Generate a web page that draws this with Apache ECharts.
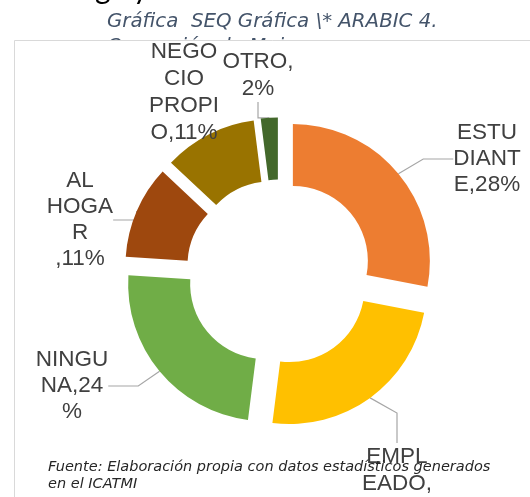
<!DOCTYPE html>
<html>
<head>
<meta charset="utf-8">
<script src="https://cdn.jsdelivr.net/npm/echarts@6/dist/echarts.min.js"></script>
<style>
html,body{margin:0;padding:0;background:#fff;}
#chart{width:530px;height:497px;}
</style>
</head>
<body>
<div id="chart"></div>
<script>
// Data
const categories = ['ESTUDIANTE', 'EMPLEADO', 'NINGUNA', 'AL HOGAR', 'NEGOCIO PROPIO', 'OTRO'];
const values = [28, 24, 24, 11, 11, 2];
// Label texts as wrapped in the original (narrow label boxes)
const labelTexts = ['ESTU\nDIANT\nE,28%', 'EMPL\nEADO,\n24%', 'NINGU\nNA,24\n%', 'AL\nHOGA\nR\n,11%', 'NEGO\nCIO\nPROPI\nO,11%', 'OTRO,\n2%'];
const colors = ['#ED7D31', '#FFC000', '#70AD47', '#9E480E', '#997300', '#43682B'];
// Label layout (center x, top y of each label box) and line heights
const labelPos = [[487, 120], [397, 443], [72, 347], [80, 168], [184, 38], [258, 48]];
const labelLH = [26, 27, 26, 26, 27, 27];

const CX = 279, CY = 272.5, EXPLODE = 18;
const total = values.reduce((a, b) => a + b, 0);

// Each slice is its own series (same data) so it can be exploded along its bisector.
const series = [];
let cum = 0;
values.forEach((v, i) => {
  const mid = (cum + v / 2) / total * 2 * Math.PI; // clockwise from 12 o'clock
  cum += v;
  series.push({
    type: 'pie',
    z: 2,
    center: [CX + EXPLODE * Math.sin(mid), CY - EXPLODE * Math.cos(mid)],
    radius: [75, 137],
    startAngle: 90,
    clockwise: true,
    silent: true,
    avoidLabelOverlap: false,
    label: {
      show: true,
      position: 'outside',
      color: '#404040',
      fontFamily: '"Liberation Sans", Arial, sans-serif',
      fontSize: 22.5,
      align: 'center',
      lineHeight: labelLH[i],
      formatter: p => labelTexts[p.dataIndex]
    },
    labelLine: { show: true, lineStyle: { color: '#A6A6A6', width: 1.2 } },
    labelLayout: p => ({
      x: labelPos[p.dataIndex][0],
      y: labelPos[p.dataIndex][1],
      align: 'center',
      verticalAlign: 'top'
    }),
    data: categories.map((c, j) => ({
      name: c,
      value: values[j],
      itemStyle: { color: j === i ? colors[j] : 'rgba(0,0,0,0)' },
      label: { show: j === i },
      labelLine: { show: j === i && j !== 4 }
    }))
  });
});

const chart = echarts.init(document.getElementById('chart'));
chart.setOption({
  animation: false,
  graphic: [
    { type: 'text', z: 0, left: 95, top: -26, style: { text: 'g', font: '30px "Lato", sans-serif', fill: '#000' } },
    { type: 'text', z: 0, left: 133, top: -26, style: { text: 'y', font: '30px "Lato", sans-serif', fill: '#000' } },
    { type: 'text', z: 0, left: 107, top: 12, style: { text: 'Gráfica  SEQ Gráfica \\* ARABIC 4.', font: 'italic 19.8px "DejaVu Sans", sans-serif', fill: '#44546A' } },
    { type: 'text', z: 0, left: 107, top: 37, style: { text: 'Ocupación de Mujeres', font: 'italic 19.8px "DejaVu Sans", sans-serif', fill: '#44546A' } },
    { type: 'rect', z: 1, shape: { x: 14.5, y: 40.5, width: 540, height: 480 }, style: { fill: '#fff', stroke: '#D9D9D9', lineWidth: 1 } },
    { type: 'text', z: 100, zlevel: 1, left: 48, top: 459, style: { text: 'Fuente: Elaboración propia con datos estadísticos generados\nen el ICATMI', font: 'italic 14.5px "DejaVu Sans", sans-serif', lineHeight: 17, fill: '#262626' } }
  ],
  series: series
});
</script>
</body>
</html>
